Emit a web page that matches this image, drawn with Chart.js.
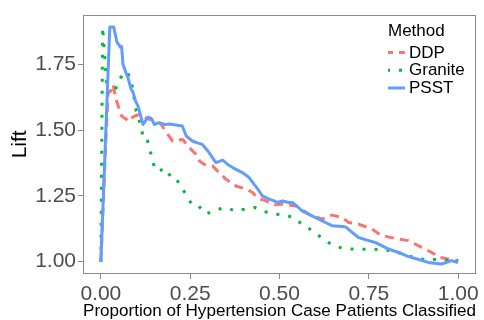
<!DOCTYPE html>
<html>
<head>
<meta charset="utf-8">
<script src="https://cdn.jsdelivr.net/npm/chart.js@4.4.1/dist/chart.umd.min.js"></script>
<style>
  html, body { margin: 0; padding: 0; background: #ffffff; }
  canvas { display: block; }
</style>
</head>
<body>
<canvas id="lift" width="484" height="320"></canvas>
<script>
// Lift curves by method
const methods = ['DDP', 'Granite', 'PSST'];

const ddpProportion = [0.000, 0.012, 0.020, 0.028, 0.034, 0.044, 0.058, 0.072, 0.081, 0.085, 0.095, 0.109, 0.122, 0.136, 0.150, 0.160, 0.169, 0.187, 0.201, 0.215, 0.229, 0.248, 0.267, 0.276, 0.290, 0.313, 0.331, 0.350, 0.378, 0.406, 0.425, 0.438, 0.462, 0.489, 0.508, 0.545, 0.582, 0.619, 0.647, 0.675, 0.694, 0.721, 0.759, 0.786, 0.833, 0.861, 0.898, 0.926, 0.949, 0.972, 1.000];
const ddpLift = [1.000, 1.400, 1.642, 1.650, 1.674, 1.611, 1.554, 1.541, 1.535, 1.547, 1.554, 1.560, 1.550, 1.541, 1.540, 1.535, 1.522, 1.484, 1.459, 1.462, 1.465, 1.433, 1.408, 1.383, 1.370, 1.364, 1.339, 1.314, 1.288, 1.276, 1.263, 1.242, 1.231, 1.216, 1.219, 1.212, 1.181, 1.162, 1.177, 1.168, 1.149, 1.143, 1.124, 1.099, 1.086, 1.080, 1.054, 1.035, 1.016, 1.010, 1.004];

const graniteProportion = [0.000, 0.005, 0.018, 0.025, 0.039, 0.048, 0.060, 0.072, 0.085, 0.090, 0.099, 0.104, 0.110, 0.118, 0.127, 0.136, 0.144, 0.152, 0.162, 0.181, 0.197, 0.211, 0.222, 0.240, 0.255, 0.274, 0.294, 0.324, 0.350, 0.376, 0.404, 0.431, 0.460, 0.485, 0.517, 0.543, 0.568, 0.596, 0.621, 0.647, 0.677, 0.705, 0.735, 0.763, 0.796, 0.824, 0.856, 0.884, 0.915, 0.942, 0.972, 1.000];
const graniteLift = [1.000, 1.893, 1.640, 1.642, 1.645, 1.686, 1.709, 1.724, 1.693, 1.648, 1.573, 1.560, 1.522, 1.478, 1.478, 1.433, 1.389, 1.349, 1.345, 1.355, 1.320, 1.317, 1.288, 1.253, 1.216, 1.211, 1.181, 1.198, 1.206, 1.193, 1.200, 1.206, 1.190, 1.181, 1.178, 1.164, 1.137, 1.115, 1.086, 1.064, 1.050, 1.048, 1.047, 1.047, 1.044, 1.039, 1.023, 1.014, 1.004, 1.010, 1.004, 1.004];

const psstProportion = [0.000, 0.025, 0.036, 0.045, 0.050, 0.055, 0.058, 0.062, 0.070, 0.076, 0.085, 0.090, 0.097, 0.104, 0.113, 0.118, 0.126, 0.132, 0.141, 0.150, 0.160, 0.169, 0.180, 0.192, 0.210, 0.228, 0.234, 0.239, 0.256, 0.270, 0.284, 0.300, 0.322, 0.341, 0.355, 0.369, 0.396, 0.415, 0.430, 0.443, 0.452, 0.471, 0.485, 0.494, 0.508, 0.526, 0.536, 0.550, 0.563, 0.585, 0.610, 0.630, 0.647, 0.684, 0.700, 0.721, 0.745, 0.768, 0.790, 0.805, 0.835, 0.861, 0.890, 0.916, 0.940, 0.953, 0.970, 0.981, 1.000];
const psstLift = [1.000, 1.893, 1.893, 1.835, 1.826, 1.815, 1.819, 1.750, 1.720, 1.699, 1.655, 1.645, 1.611, 1.592, 1.547, 1.522, 1.538, 1.550, 1.545, 1.522, 1.528, 1.526, 1.522, 1.524, 1.520, 1.516, 1.495, 1.478, 1.459, 1.452, 1.446, 1.420, 1.377, 1.386, 1.370, 1.358, 1.339, 1.320, 1.292, 1.269, 1.250, 1.238, 1.231, 1.225, 1.231, 1.225, 1.225, 1.210, 1.193, 1.178, 1.162, 1.148, 1.137, 1.133, 1.115, 1.092, 1.082, 1.073, 1.058, 1.048, 1.034, 1.019, 1.008, 0.997, 0.993, 0.991, 0.998, 1.004, 0.997];

const xTicks = [0, 0.25, 0.5, 0.75, 1];
const yTicks = [1, 1.25, 1.5, 1.75];

const FONT = '"Liberation Sans", Arial, sans-serif';
const AXIS_GREY = '#8a8a8a';
const TICK_TEXT = '#4d4d4d';

function toPoints(xs, ys) {
  return xs.map((x, i) => ({ x: x, y: ys[i] }));
}

// Box around the panel
const panelBorder = {
  id: 'panelBorder',
  afterDraw(chart) {
    const { ctx, chartArea: a } = chart;
    ctx.save();
    ctx.strokeStyle = AXIS_GREY;
    ctx.lineWidth = 1;
    ctx.strokeRect(Math.round(a.left) + 0.5, Math.round(a.top) + 0.5,
                   Math.round(a.right - a.left) - 1, Math.round(a.bottom - a.top) - 1);
    ctx.restore();
  }
};

// Key with title, placed inside the top-right corner of the panel
const methodKey = {
  id: 'methodKey',
  afterDraw(chart) {
    const { ctx } = chart;
    const x0 = 388, titleY = 31, rowY = [52.5, 70.3, 88], keyLen = 17;
    ctx.save();
    ctx.fillStyle = '#000000';
    ctx.font = '17px ' + FONT;
    ctx.textBaseline = 'middle';
    ctx.textAlign = 'left';
    ctx.fillText('Method', x0, titleY);
    chart.data.datasets.forEach((ds, i) => {
      const y = rowY[i];
      ctx.beginPath();
      ctx.strokeStyle = ds.borderColor;
      ctx.lineWidth = ds.borderWidth;
      ctx.lineCap = 'butt';
      ctx.setLineDash(ds.borderDash || []);
      ctx.lineDashOffset = ds.keyDashOffset || 0;
      ctx.moveTo(x0, y);
      ctx.lineTo(x0 + keyLen, y);
      ctx.stroke();
      ctx.setLineDash([]);
      ctx.fillStyle = '#000000';
      ctx.fillText(ds.label, x0 + keyLen + 4, y + 0.5);
    });
    ctx.restore();
  }
};

const series = [
  { label: methods[0], xs: ddpProportion, ys: ddpLift, color: '#F8766D', dash: [9, 6], keyDashOffset: 4, order: 2 },
  { label: methods[1], xs: graniteProportion, ys: graniteLift, color: '#00BA38', dash: [3, 9], keyDashOffset: 1, order: 1 },
  { label: methods[2], xs: psstProportion, ys: psstLift, color: '#619CFF', dash: [], keyDashOffset: 0, order: 0 }
];

new Chart(document.getElementById('lift'), {
  type: 'line',
  data: {
    datasets: series.map(s => ({
      label: s.label,
      data: toPoints(s.xs, s.ys),
      borderColor: s.color,
      backgroundColor: s.color,
      borderWidth: 3,
      borderDash: s.dash,
      keyDashOffset: s.keyDashOffset,
      borderCapStyle: 'butt',
      borderJoinStyle: 'round',
      pointRadius: 0,
      tension: 0,
      fill: false,
      order: s.order
    }))
  },
  options: {
    responsive: false,
    devicePixelRatio: 1,
    animation: false,
    layout: { padding: { top: 13, right: 8, left: 0, bottom: 0 } },
    plugins: {
      legend: { display: false },
      tooltip: { enabled: false }
    },
    scales: {
      x: {
        type: 'linear',
        min: -0.05,
        max: 1.05,
        afterFit(scale) { scale.height = 46; },
        afterBuildTicks(scale) { scale.ticks = xTicks.map(v => ({ value: v })); },
        border: { display: false },
        grid: { drawOnChartArea: false, drawTicks: true, tickLength: 5, color: AXIS_GREY, lineWidth: 1 },
        ticks: {
          padding: 4,
          color: TICK_TEXT,
          font: { family: FONT, size: 21, lineHeight: 1.1 },
          maxRotation: 0,
          callback: v => Number(v).toFixed(2)
        },
        title: {
          display: true,
          text: 'Proportion of Hypertension Case Patients Classified',
          color: '#000000',
          font: { family: FONT, size: 17.2, lineHeight: 1.02 },
          padding: { top: 0, bottom: 0 }
        }
      },
      y: {
        type: 'linear',
        min: 0.953,
        max: 1.940,
        afterFit(scale) { scale.width = 83; },
        afterBuildTicks(scale) { scale.ticks = yTicks.map(v => ({ value: v })); },
        border: { display: false },
        grid: { drawOnChartArea: false, drawTicks: true, tickLength: 5, color: AXIS_GREY, lineWidth: 1 },
        ticks: {
          padding: 2,
          color: TICK_TEXT,
          font: { family: FONT, size: 21 },
          callback: v => Number(v).toFixed(2)
        },
        title: {
          display: true,
          text: 'Lift',
          color: '#000000',
          font: { family: FONT, size: 21, lineHeight: 1.2 },
          padding: { top: 8, bottom: 0 }
        }
      }
    }
  },
  plugins: [panelBorder, methodKey]
});
</script>
</body>
</html>
